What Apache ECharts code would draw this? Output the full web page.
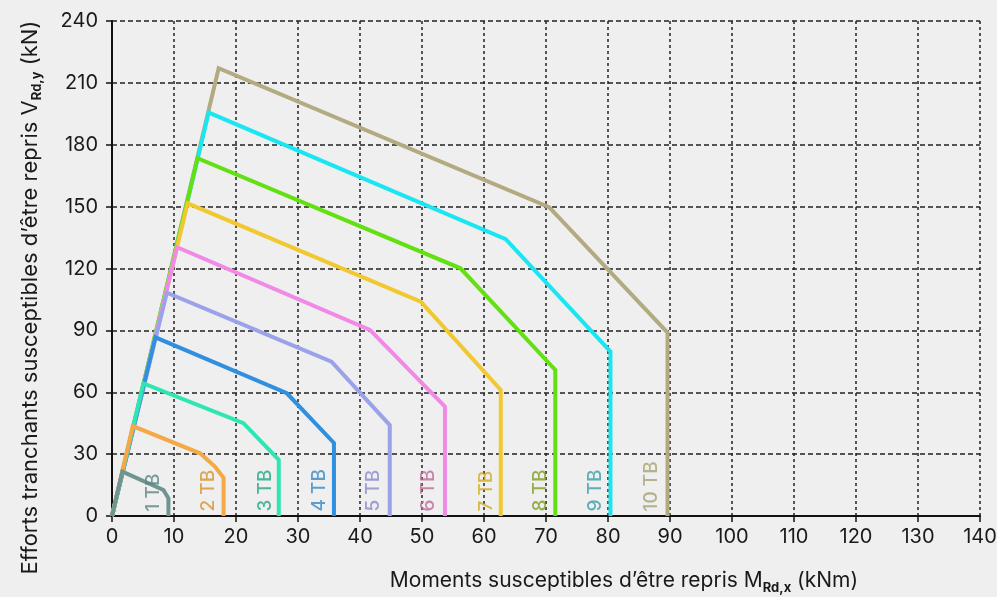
<!DOCTYPE html>
<html>
<head>
<meta charset="utf-8">
<script src="https://cdn.jsdelivr.net/npm/echarts@6/dist/echarts.min.js"></script>
<style>
html,body{margin:0;padding:0;background:#efefef;}
#c{width:997px;height:597px;}
</style>
</head>
<body>
<div id="c"></div>
<script>
// Curve names
const seriesNames = ['1 TB','2 TB','3 TB','4 TB','5 TB','6 TB','7 TB','8 TB','9 TB','10 TB'];
// Each curve: [M (kNm), V (kN)] points
const tb1  = [[0,0],[1.67,21.5],[8.3,12.6],[9.1,8.6],[9.1,0]];
const tb2  = [[0,0],[3.35,43.6],[14.2,30.4],[16.6,24.0],[18.0,18.5],[18.0,0]];
const tb3  = [[0,0],[5.07,64.3],[21.2,45.0],[26.9,27.2],[26.9,0]];
const tb4  = [[0,0],[7.0,86.6],[28.2,59.5],[35.8,35.4],[35.8,0]];
const tb5  = [[0,0],[8.85,108.3],[35.4,74.8],[44.8,44.1],[44.8,0]];
const tb6  = [[0,0],[10.5,130.3],[41.6,90.2],[53.7,53.0],[53.7,0]];
const tb7  = [[0,0],[12.2,151.6],[49.8,103.9],[62.7,61.1],[62.7,0]];
const tb8  = [[0,0],[13.8,173.5],[56.2,120.1],[71.5,70.8],[71.5,0]];
const tb9  = [[0,0],[15.6,195.6],[63.5,134.2],[80.4,79.7],[80.4,0]];
const tb10 = [[0,0],[17.2,217.1],[70.5,149.7],[89.6,88.9],[89.6,0]];
const curves = [tb1,tb2,tb3,tb4,tb5,tb6,tb7,tb8,tb9,tb10];
// Label anchors (rotated curve labels)
const labelX = [6.7,15.5,24.7,33.5,42.1,51.0,60.3,69.0,77.9,87.0];
const labelY = [2.2,2.2,2.2,2.2,2.2,2.2,2.2,2.2,2.2,2.2];
// Axis ticks
const xTicks = {min:0, max:140, interval:10};
const yTicks = {min:0, max:240, interval:30};

const lineColors = ['#6f9492','#f4a846','#2fe6b2','#2f90e0','#9aa2ea','#f08ae6','#f2c830','#62e012','#1ae6f2','#b2ab82'];
const labelColors = ['#5a8583','#d8922a','#22a684','#3689c6','#878bd0','#bd6a9a','#d4ab1c','#7aa01a','#3a9da6','#a6a274'];

const FONT = 'Inter';

const series = curves.map((d,i)=>({
  name: seriesNames[i],
  type: 'line',
  data: d,
  showSymbol: false,
  symbol: 'none',
  z: 20 - i,
  lineStyle: {color: lineColors[i], width: 4, join: 'miter'},
  silent: true
}));

series.push({
  type: 'scatter',
  symbolSize: 0,
  z: 30,
  silent: true,
  data: labelX.map((x,i)=>({
    value: [x, labelY[i]],
    label: {color: labelColors[i]}
  })),
  label: {
    show: true,
    position: 'inside',
    rotate: 90,
    align: 'left',
    verticalAlign: 'middle',
    fontFamily: FONT,
    fontWeight: 500,
    fontSize: 19,
    formatter: p => seriesNames[p.dataIndex]
  }
});

const chart = echarts.init(document.getElementById('c'), null, {renderer:'canvas'});
chart.setOption({
  backgroundColor: '#efefef',
  animation: false,
  grid: {left:112, right:17, top:21, bottom:81, containLabel:false, outerBoundsMode:'none'},
  xAxis: {
    type: 'value',
    min: xTicks.min, max: xTicks.max, interval: xTicks.interval,
    name: '{n|Moments susceptibles d\u2019être repris M}{s|Rd,x}{n| (kNm)}',
    nameLocation: 'middle',
    nameGap: 51,
    nameMoveOverlap: false,
    nameTextStyle: {
      padding: [0,0,0,156],
      rich: {
        n: {fontFamily: FONT, fontSize: 21, color:'#1a1a1a', lineHeight: 28},
        s: {fontFamily: FONT, fontSize: 13, fontWeight: 'bold', color:'#1a1a1a', lineHeight: 15, verticalAlign:'bottom'}
      }
    },
    axisLine: {show:true, onZero:false, lineStyle:{color:'#111', width:2}},
    axisTick: {show:true, length:6, lineStyle:{color:'#111', width:1.5}},
    axisLabel: {fontFamily: FONT, fontSize: 20, color:'#1a1a1a', margin: 11},
    splitLine: {show:true, lineStyle:{color:'#222', width:1.5, type:[3,3]}}
  },
  yAxis: {
    type: 'value',
    min: yTicks.min, max: yTicks.max, interval: yTicks.interval,
    name: '{n|Efforts tranchants susceptibles d\u2019être repris V}{s|Rd,y}{n| (kN)}',
    nameLocation: 'middle',
    nameGap: 68,
    nameRotate: 90,
    nameMoveOverlap: false,
    nameTextStyle: {
      padding: [0,58,0,0],
      rich: {
        n: {fontFamily: FONT, fontSize: 22, color:'#1a1a1a', lineHeight: 28},
        s: {fontFamily: FONT, fontSize: 13, fontWeight: 'bold', color:'#1a1a1a', lineHeight: 15, verticalAlign:'bottom'}
      }
    },
    axisLine: {show:true, lineStyle:{color:'#111', width:2}},
    axisTick: {show:true, length:6, lineStyle:{color:'#111', width:1.5}},
    axisLabel: {fontFamily: FONT, fontSize: 20, color:'#1a1a1a', margin: 14},
    splitLine: {show:true, lineStyle:{color:'#222', width:1.5, type:[5,3]}}
  },
  series: series
});
</script>
</body>
</html>
